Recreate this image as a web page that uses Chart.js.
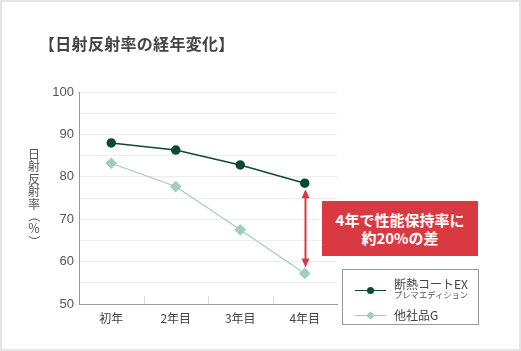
<!DOCTYPE html>
<html lang="ja">
<head>
<meta charset="utf-8">
<script src="https://cdn.jsdelivr.net/npm/chart.js@4.4.1/dist/chart.umd.min.js"></script>
<style>
    html, body { margin: 0; padding: 0; background: #fff; }
    #wrap {
        position: relative;
        width: 521px; height: 351px;
        box-sizing: border-box;
        border: 2px solid #e5e5e5;
        font-family: "Noto Sans CJK JP", "Noto Sans", sans-serif;
        overflow: hidden;
    }
    #chart { position: absolute; left: -2px; top: -2px; }
    .title {
        position: absolute; left: 37px; top: 29px;
        font-size: 16px; font-weight: bold; color: #444; letter-spacing: 0.3px;
    }
    .ytitle {
        position: absolute; left: 25px; top: 146px; width: 14px;
        font-size: 12px; color: #555; line-height: 12.4px; text-align: center;
    }
    .ytitle span { display: block; }
    .ytitle span.rot { transform: rotate(90deg); }
    .callout {
        position: absolute; left: 320px; top: 199px; width: 156px; height: 55px;
        background: #d93a42; color: #fff; font-weight: bold; font-size: 15px;
        text-align: center; line-height: 18px; box-sizing: border-box; padding-top: 10px;
    }
    .legend {
        position: absolute; left: 340px; top: 267px; width: 137px; height: 56px;
        box-sizing: border-box; border: 1px solid #999; background: #fff;
    }
    .legend .icon { position: absolute; left: 12px; width: 31px; height: 1px; }
    .legend .icon span { position: absolute; left: 12px; top: -3px; width: 7px; height: 7px; }
    .legend .name { position: absolute; left: 51px; font-size: 12px; line-height: 14px; color: #444; white-space: nowrap; }
    .legend .sub { position: absolute; left: 51px; top: 19px; font-size: 8.3px; line-height: 10px; color: #555; white-space: nowrap; }
</style>
</head>
<body>
<div id="wrap">
    <canvas id="chart" width="521" height="351"></canvas>
    <div class="title">【日射反射率の経年変化】</div>
    <div class="ytitle" id="ytitle"></div>
    <div class="callout">4年で性能保持率に<br>約20%の差</div>
    <div class="legend" id="legend"></div>
</div>
<script>
// data
const years = ['初年', '2年目', '3年目', '4年目'];
const coatEX = [88.0, 86.3, 82.8, 78.5];
const otherG = [83.2, 77.7, 67.5, 57.2];
const seriesNames = ['断熱コートEX', '他社品G'];
const yTicks = [50, 60, 70, 80, 90, 100];
const yTitle = '日射反射率（％）';

const DARK = '#0c4a33';
const LIGHT = '#a2cdbd';
const RED = '#d93a42';

// short tick marks between categories, drawn upward from the x axis
const boundaryTicks = {
    id: 'boundaryTicks',
    afterDraw(chart) {
        const { ctx, chartArea, scales: { x } } = chart;
        ctx.save();
        ctx.strokeStyle = '#dcdcdc';
        ctx.lineWidth = 1;
        for (let i = 1; i < years.length; i++) {
            const px = Math.round((x.getPixelForValue(i - 1) + x.getPixelForValue(i)) / 2) + 0.5;
            ctx.beginPath();
            ctx.moveTo(px, chartArea.bottom);
            ctx.lineTo(px, chartArea.bottom - 8);
            ctx.stroke();
        }
        ctx.restore();
    }
};

// red double arrow between the two last values
const gapArrow = {
    id: 'gapArrow',
    afterDatasetsDraw(chart) {
        const { ctx, scales: { x, y } } = chart;
        const last = years.length - 1;
        const px = Math.round(x.getPixelForValue(last)) + 0.5;
        const top = y.getPixelForValue(coatEX[last]) + 6;
        const bot = y.getPixelForValue(otherG[last]) - 6;
        ctx.save();
        ctx.strokeStyle = RED;
        ctx.fillStyle = RED;
        ctx.lineWidth = 2;
        ctx.beginPath();
        ctx.moveTo(px, top + 5);
        ctx.lineTo(px, bot - 5);
        ctx.stroke();
        ctx.beginPath();
        ctx.moveTo(px, top);
        ctx.lineTo(px - 4, top + 9);
        ctx.lineTo(px + 4, top + 9);
        ctx.closePath();
        ctx.fill();
        ctx.beginPath();
        ctx.moveTo(px, bot);
        ctx.lineTo(px - 4, bot - 9);
        ctx.lineTo(px + 4, bot - 9);
        ctx.closePath();
        ctx.fill();
        ctx.restore();
    }
};

new Chart(document.getElementById('chart'), {
    type: 'line',
    data: {
        labels: years,
        datasets: [{
            label: seriesNames[0],
            data: coatEX,
            borderColor: DARK,
            backgroundColor: DARK,
            borderWidth: 1.5,
            pointStyle: 'circle',
            pointRadius: 4,
            tension: 0
        }, {
            label: seriesNames[1],
            data: otherG,
            borderColor: LIGHT,
            backgroundColor: LIGHT,
            borderWidth: 1.2,
            pointStyle: 'rectRot',
            pointRadius: 5,
            tension: 0
        }]
    },
    options: {
        responsive: false,
        animation: false,
        layout: { padding: { left: 0, top: 92, right: 184, bottom: 0 } },
        plugins: { legend: { display: false }, tooltip: { enabled: false } },
        scales: {
            x: {
                offset: true,
                grid: { display: false, drawTicks: false },
                border: { color: '#999', width: 1 },
                ticks: {
                    color: '#444', padding: 7,
                    font: { family: "'Noto Sans CJK JP', sans-serif", size: 12 }
                },
                afterFit(scale) { scale.height = 47; }
            },
            y: {
                min: 50, max: 100,
                grid: { color: '#ececec', drawTicks: false },
                border: { color: '#999', width: 1 },
                ticks: {
                    stepSize: 5,
                    padding: 5,
                    color: '#555',
                    font: { family: "'Liberation Sans', 'Noto Sans', sans-serif", size: 13 },
                    callback: v => yTicks.includes(v) ? v : ''
                },
                afterFit(scale) { scale.width = 79; }
            }
        }
    },
    plugins: [boundaryTicks, gapArrow]
});

// vertical axis title, one character per line, brackets turned
document.getElementById('ytitle').innerHTML = Array.from(yTitle)
    .map(c => '<span' + ('（）'.includes(c) ? ' class="rot"' : '') + '>' + c + '</span>')
    .join('');

// legend box built from the series names
const legend = document.getElementById('legend');
legend.innerHTML =
    '<div class="icon" style="top:20px;background:' + DARK + '"><span style="border-radius:50%;background:' + DARK + '"></span></div>' +
    '<div class="name" style="top:7px">' + seriesNames[0] + '</div>' +
    '<div class="sub">プレマエディション</div>' +
    '<div class="icon" style="top:45px;background:' + LIGHT + '"><span style="transform:rotate(45deg) scale(0.85);background:' + LIGHT + '"></span></div>' +
    '<div class="name" style="top:38px">' + seriesNames[1] + '</div>';
</script>
</body>
</html>
